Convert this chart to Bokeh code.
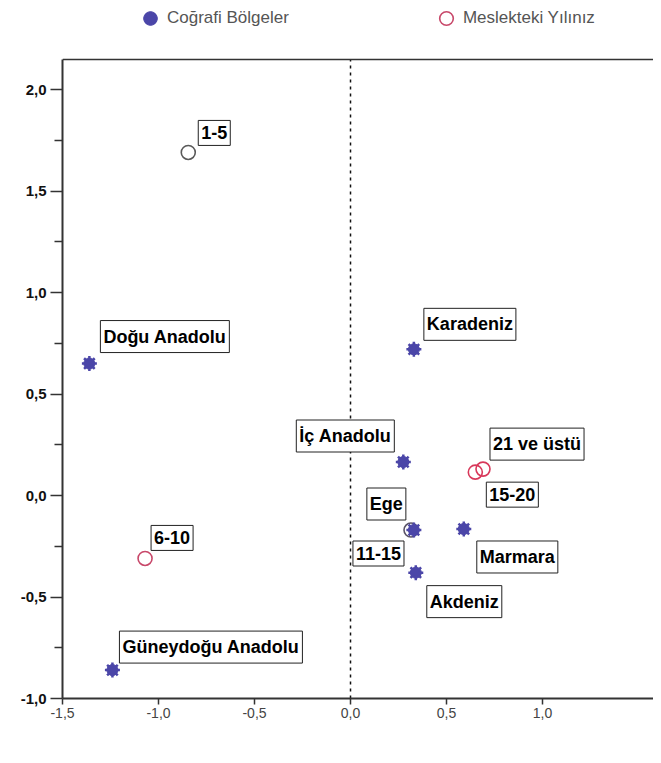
from bokeh.plotting import figure
from bokeh.models import (ColumnDataSource, Span, Label, Legend, LegendItem,
                          FixedTicker, CustomJSTickFormatter, Range1d)
from bokeh.embed import file_html
from bokeh.resources import INLINE

# ---------------- data ----------------
region_names = ["Doğu Anadolu", "Karadeniz", "İç Anadolu", "Ege", "Marmara",
                "Akdeniz", "Güneydoğu Anadolu"]
region_x = [-1.36, 0.33, 0.275, 0.33, 0.59, 0.34, -1.24]
region_y = [0.65, 0.72, 0.165, -0.17, -0.165, -0.38, -0.86]

years_names = ["1-5", "6-10", "11-15", "15-20", "21 ve üstü"]
years_x = [-0.845, -1.07, 0.315, 0.65, 0.69]
years_y = [1.69, -0.31, -0.17, 0.115, 0.13]

x_ticks = [-1.5, -1.0, -0.5, 0.0, 0.5, 1.0]
y_ticks = [-1.0, -0.5, 0.0, 0.5, 1.0, 1.5, 2.0]

legend_labels = ["Coğrafi Bölgeler", "Meslekteki Yılınız"]

# ---------------- styles / layout ----------------
region_color = "#4b46a8"
years_colors = ["#5a5a5a", "#c8486a", "#5a5468", "#d8385a", "#d8385a"]

# label placement: (align, baseline, dx, dy) in screen px
region_label_pos = {
    "Doğu Anadolu": ("left", "bottom", 11, 11),
    "Karadeniz": ("left", "bottom", 10, 9),
    "İç Anadolu": ("right", "bottom", -9, 10),
    "Ege": ("right", "bottom", -8, 10),
    "Marmara": ("left", "top", 13, -12),
    "Akdeniz": ("left", "top", 11, -13),
    "Güneydoğu Anadolu": ("left", "bottom", 7, 7),
}
years_label_pos = {
    "1-5": ("left", "bottom", 10, 7),
    "6-10": ("left", "bottom", 6, 8),
    "11-15": ("right", "top", -7, -11),
    "15-20": ("left", "top", 11, -10),
    "21 ve üstü": ("left", "bottom", 7, 9),
}

W, H = 653, 747
X_START, X_END = -1.5, 1.578
Y_START, Y_END = -1.0, 2.148      # visible plotting box
Y_TOP = -1.0 + 698 / 203.0        # frame extends up to hold the legend
p = figure(width=W, height=H, output_backend="svg", toolbar_location=None,
           x_range=Range1d(X_START, X_END), y_range=Range1d(Y_START, Y_TOP),
           min_border_left=62, min_border_top=0, min_border_bottom=49,
           min_border_right=0)
p.grid.visible = False
p.outline_line_color = None
p.background_fill_color = "white"
p.border_fill_color = "white"

fmt = CustomJSTickFormatter(code="return tick.toFixed(1).replace('.', ',');")

# x axis
xa = p.xaxis[0]
xa.ticker = FixedTicker(ticks=x_ticks, minor_ticks=[])
xa.formatter = fmt
xa.axis_line_color = "#333333"
xa.axis_line_width = 2
xa.major_tick_line_color = "#333333"
xa.major_tick_line_width = 1.5
xa.major_tick_out = 6
xa.major_tick_in = 0
xa.minor_tick_line_color = None
xa.major_label_text_font = "Liberation Sans"
xa.major_label_text_font_size = "14px"
xa.major_label_text_color = "#444444"
xa.major_label_standoff = 3

# y axis
ya = p.yaxis[0]
y_minor = [(a + b) / 2 for a, b in zip(y_ticks[:-1], y_ticks[1:])]
ya.ticker = FixedTicker(ticks=y_ticks, minor_ticks=y_minor)
ya.formatter = fmt
ya.bounds = (Y_START, Y_END)
ya.axis_line_color = "#333333"
ya.axis_line_width = 2
ya.major_tick_line_color = "#333333"
ya.major_tick_line_width = 1.5
ya.major_tick_out = 12
ya.major_tick_in = 0
ya.minor_tick_line_color = "#333333"
ya.minor_tick_line_width = 1.5
ya.minor_tick_out = 8
ya.minor_tick_in = 0
ya.major_label_text_font = "Liberation Sans"
ya.major_label_text_font_style = "bold"
ya.major_label_text_font_size = "15px"
ya.major_label_text_color = "#111111"
ya.major_label_standoff = 4

# frame top line and dotted zero line
p.add_layout(Span(location=Y_END, dimension="width", line_color="#333333",
                  line_width=1.5))
p.segment(x0=[0.0], y0=[Y_START], x1=[0.0], y1=[Y_END], line_color="#111111",
          line_width=1.5, line_dash="3 4")

# points
ysrc = ColumnDataSource(dict(x=years_x, y=years_y, name=years_names,
                             color=years_colors))
rsrc = ColumnDataSource(dict(x=region_x, y=region_y, name=region_names))

r_years = p.scatter("x", "y", source=ysrc, marker="circle", size=14,
                    fill_color=None, line_color="color", line_width=1.6)
r_reg1 = p.scatter("x", "y", source=rsrc, marker="circle", size=11,
                   fill_color=region_color, line_color=region_color)
r_reg2 = p.scatter("x", "y", source=rsrc, marker="asterisk", size=15,
                   line_color=region_color, line_width=2.5)

# labels
def add_label(x, y, text, pos):
    align, base, dx, dy = pos
    p.add_layout(Label(x=x, y=y, text=text, x_offset=dx, y_offset=dy,
                       text_align=align, text_baseline=base,
                       text_font="Liberation Sans", text_font_style="bold",
                       text_font_size="18px", text_color="#000000",
                       background_fill_color="white",
                       border_line_color="#222222", border_line_width=1,
                       padding=(3, 6)))

for n, x, y in zip(region_names, region_x, region_y):
    add_label(x, y, n, region_label_pos[n])
for n, x, y in zip(years_names, years_x, years_y):
    add_label(x, y, n, years_label_pos[n])

# legend (inside the top strip of the frame)
legend = Legend(items=[LegendItem(label=legend_labels[0], renderers=[r_reg1, r_reg2]),
                       LegendItem(label=legend_labels[1], renderers=[r_years], index=1)],
                orientation="horizontal", location=(71, 663),
                padding=2, margin=0, spacing=140,
                glyph_width=34, glyph_height=34, label_standoff=0,
                label_text_font="Liberation Sans", label_text_font_size="17px",
                label_text_color="#555555",
                border_line_color=None, background_fill_alpha=0)
p.add_layout(legend, "center")

open("out.html", "w").write(file_html(p, INLINE))
